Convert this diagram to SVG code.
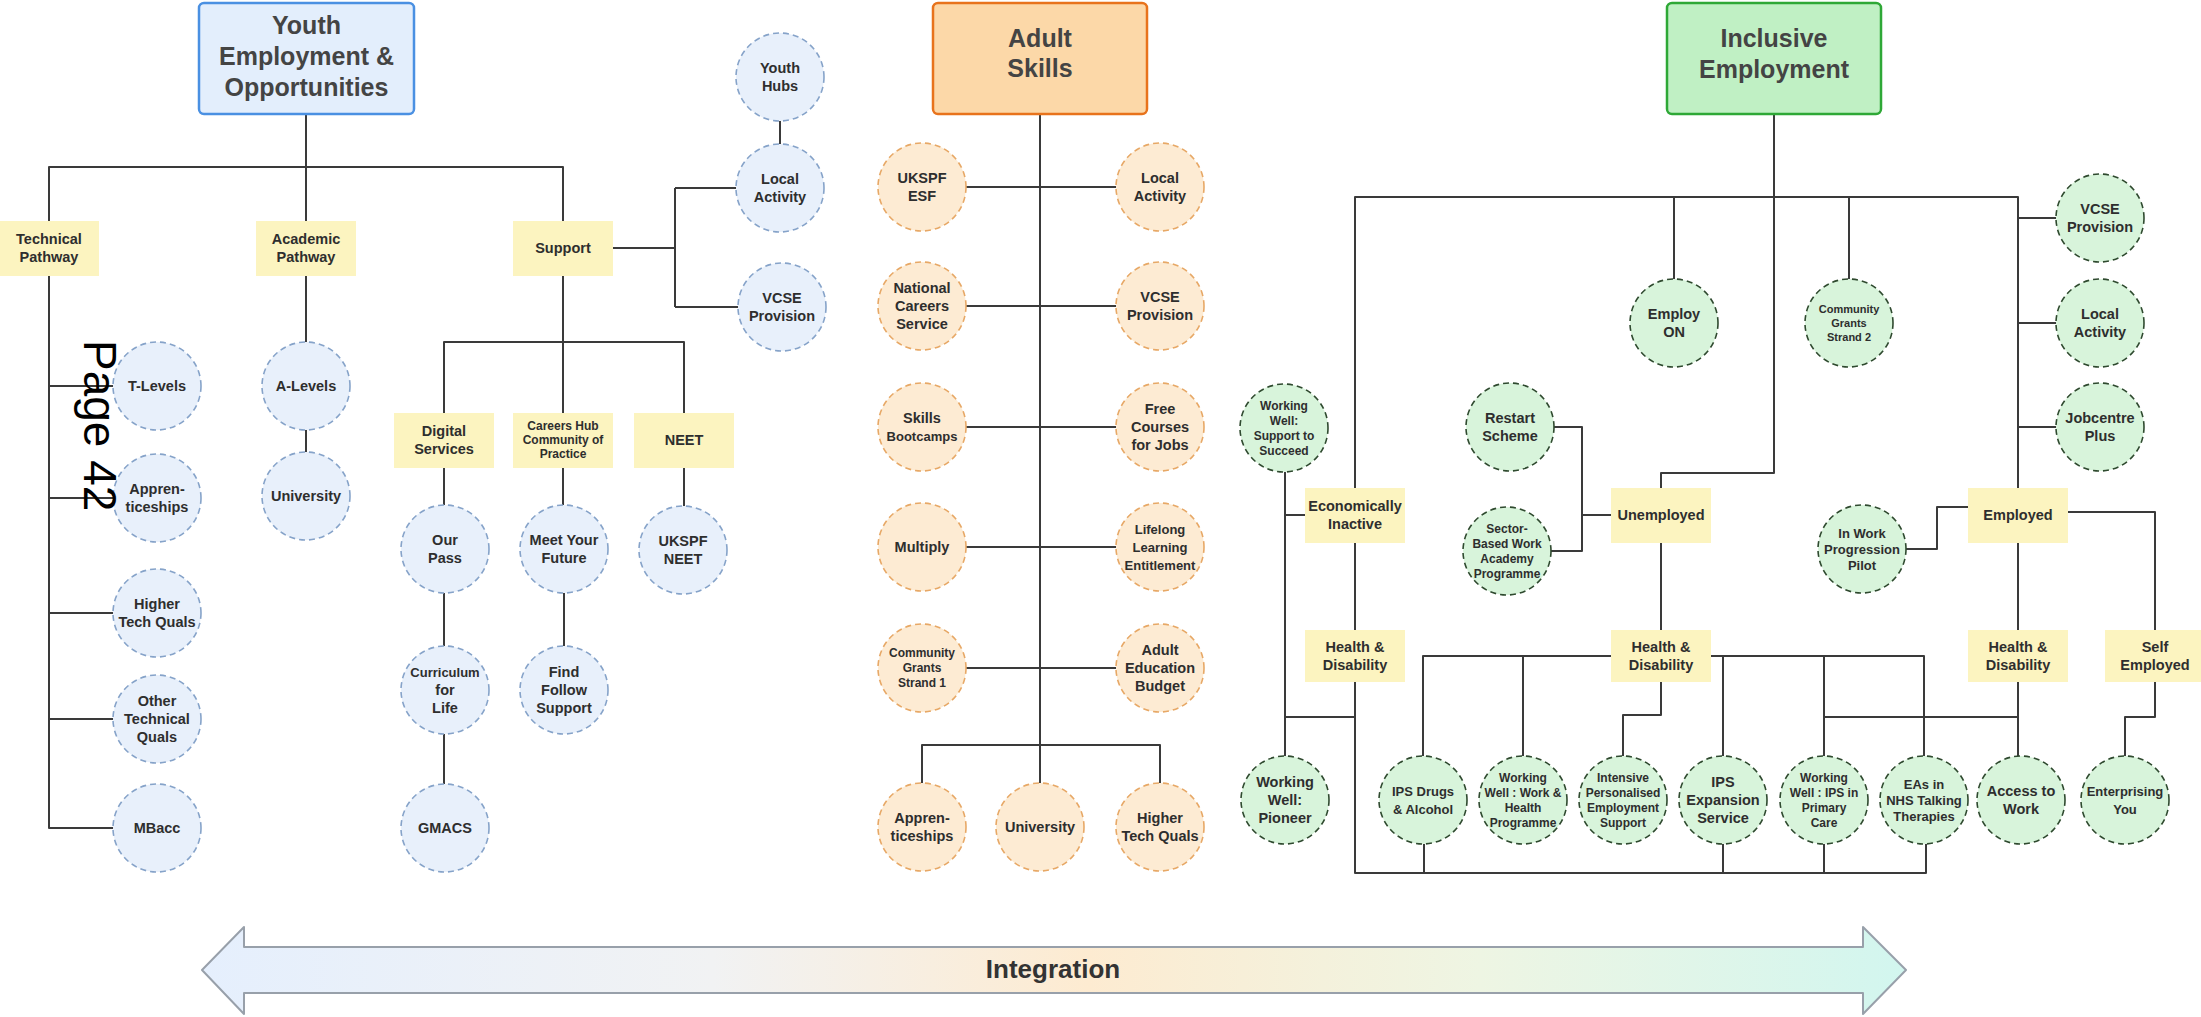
<svg xmlns="http://www.w3.org/2000/svg" width="2201" height="1017" viewBox="0 0 2201 1017">
<defs>
<linearGradient id="intg" gradientUnits="userSpaceOnUse" x1="202" y1="0" x2="1906" y2="0">
<stop offset="0" stop-color="#e5effd"/>
<stop offset="0.3" stop-color="#f1f2f3"/>
<stop offset="0.52" stop-color="#fdebd1"/>
<stop offset="0.75" stop-color="#eef5e3"/>
<stop offset="1" stop-color="#d2f6ef"/>
</linearGradient>
</defs>
<style>
.ln{fill:none;stroke:#3a3a3a;stroke-width:2;stroke-linejoin:round}
.yb{fill:#fcf4c0}
.cb{fill:#e8f0fb;stroke:#86a3c9;stroke-width:1.6;stroke-dasharray:6 4}
.co{fill:#fdebd3;stroke:#e7a866;stroke-width:1.6;stroke-dasharray:6 4}
.cg{fill:#d8f4db;stroke:#2f4a2f;stroke-width:1.6;stroke-dasharray:6 4}
text{font-family:"Liberation Sans",Arial,sans-serif;font-weight:bold;fill:#2e2e2e;text-anchor:middle}
.t{font-size:14.5px}
.m{font-size:13px}
.s{font-size:12px}
.xs{font-size:11px}
.h{font-size:25px;fill:#444}
</style>
<rect width="2201" height="1017" fill="#ffffff"/>

<g id="connectors">
<!-- Youth -->
<path class="ln" d="M306,114 V167 M49,221 V167 H563 V221 M306,167 V221"/>
<path class="ln" d="M49,276 V828 H113 M49,386 H113 M49,498 H113 M49,613 H113 M49,719 H113"/>
<path class="ln" d="M306,276 V342 M306,430 V452"/>
<path class="ln" d="M613,248 H675 M675,188 V307 M675,188 H736 M675,307 H738 M780,121 V144"/>
<path class="ln" d="M563,276 V413 M444,413 V342 H684 V413"/>
<path class="ln" d="M444,468 V505 M563,468 V505 M684,468 V506 M444,593 V646 M444,734 V784 M564,593 V646"/>
<!-- Adult -->
<path class="ln" d="M1040,114 V783 M922,783 V745 H1160 V783"/>
<path class="ln" d="M966,187 H1116 M966,306 H1116 M966,427 H1116 M966,547 H1116 M966,668 H1116"/>
<!-- Inclusive -->
<path class="ln" d="M1774,114 V473 H1661 V488"/>
<path class="ln" d="M1355,488 V197 H2018 V488 M1674,197 V279 M1849,197 V279"/>
<path class="ln" d="M2018,218 H2056 M2018,323 H2056 M2018,427 H2056"/>
<path class="ln" d="M1355,543 V630 M1355,682 V873 H1926 V844 M1424,844 V873 M1723,844 V873 M1824,844 V873"/>
<path class="ln" d="M1285,472 V756 M1285,515 H1305 M1285,717 H1355"/>
<path class="ln" d="M1554,427 H1582 V551 H1551 M1611,515 H1582 M1661,543 V630"/>
<path class="ln" d="M1611,656 H1423 V756 M1523,656 V756 M1711,656 H1924 V756 M1723,656 V756 M1824,656 V756 M1661,682 V715 H1623 V756"/>
<path class="ln" d="M1968,507 H1937 V549 H1906 M2068,512 H2155 V630 M2018,543 V630 M2018,682 V756 M2018,717 H1824 M2155,682 V717 H2125 V756"/>
</g>

<!-- Headers -->
<g id="youth-header">
<rect x="199" y="3" width="215" height="111" rx="5" fill="#e3eefc" stroke="#4a90e2" stroke-width="2.5"/>
<text class="h" x="306.5" y="34">Youth</text>
<text class="h" x="306.5" y="65">Employment &amp;</text>
<text class="h" x="306.5" y="96">Opportunities</text>
</g>
<g id="adult-header">
<rect x="933" y="3" width="214" height="111" rx="5" fill="#fcd8a8" stroke="#e8731c" stroke-width="2.5"/>
<text class="h" x="1040" y="47">Adult</text>
<text class="h" x="1040" y="77">Skills</text>
</g>
<g id="inclusive-header">
<rect x="1667" y="3" width="214" height="111" rx="5" fill="#c0f0c4" stroke="#2ea836" stroke-width="2.5"/>
<text class="h" x="1774" y="47">Inclusive</text>
<text class="h" x="1774" y="78">Employment</text>
</g>

<!-- Yellow category boxes -->
<g id="technical-pathway"><rect class="yb" x="-1" y="221" width="100" height="55"/><text class="t" x="49" y="244">Technical</text><text class="t" x="49" y="262">Pathway</text></g>
<g id="academic-pathway"><rect class="yb" x="256" y="221" width="100" height="55"/><text class="t" x="306" y="244">Academic</text><text class="t" x="306" y="262">Pathway</text></g>
<g id="support"><rect class="yb" x="513" y="221" width="100" height="55"/><text class="t" x="563" y="253">Support</text></g>
<g id="digital-services"><rect class="yb" x="394" y="413" width="100" height="55"/><text class="t" x="444" y="436">Digital</text><text class="t" x="444" y="454">Services</text></g>
<g id="careers-hub"><rect class="yb" x="513" y="413" width="100" height="55"/><text class="s" x="563" y="430">Careers Hub</text><text class="s" x="563" y="444">Community of</text><text class="s" x="563" y="458">Practice</text></g>
<g id="neet"><rect class="yb" x="634" y="413" width="100" height="55"/><text class="t" x="684" y="445">NEET</text></g>
<g id="econ-inactive"><rect class="yb" x="1305" y="488" width="100" height="55"/><text class="t" x="1355" y="511">Economically</text><text class="t" x="1355" y="529">Inactive</text></g>
<g id="hd-inactive"><rect class="yb" x="1305" y="630" width="100" height="52"/><text class="t" x="1355" y="652">Health &amp;</text><text class="t" x="1355" y="670">Disability</text></g>
<g id="unemployed"><rect class="yb" x="1611" y="488" width="100" height="55"/><text class="t" x="1661" y="520">Unemployed</text></g>
<g id="hd-unemployed"><rect class="yb" x="1611" y="630" width="100" height="52"/><text class="t" x="1661" y="652">Health &amp;</text><text class="t" x="1661" y="670">Disability</text></g>
<g id="employed"><rect class="yb" x="1968" y="488" width="100" height="55"/><text class="t" x="2018" y="520">Employed</text></g>
<g id="hd-employed"><rect class="yb" x="1968" y="630" width="100" height="52"/><text class="t" x="2018" y="652">Health &amp;</text><text class="t" x="2018" y="670">Disability</text></g>
<g id="self-employed"><rect class="yb" x="2105" y="630" width="100" height="52"/><text class="t" x="2155" y="652">Self</text><text class="t" x="2155" y="670">Employed</text></g>

<!-- Youth circles -->
<g id="t-levels"><circle class="cb" cx="157" cy="386" r="44"/><text class="t" x="157" y="391">T-Levels</text></g>
<g id="y-apprenticeships"><circle class="cb" cx="157" cy="498" r="44"/><text class="t" x="157" y="494">Appren-</text><text class="t" x="157" y="512">ticeships</text></g>
<g id="y-higher-tech"><circle class="cb" cx="157" cy="613" r="44"/><text class="t" x="157" y="609">Higher</text><text class="t" x="157" y="627">Tech Quals</text></g>
<g id="other-tech"><circle class="cb" cx="157" cy="719" r="44"/><text class="t" x="157" y="706">Other</text><text class="t" x="157" y="724">Technical</text><text class="t" x="157" y="742">Quals</text></g>
<g id="mbacc"><circle class="cb" cx="157" cy="828" r="44"/><text class="t" x="157" y="833">MBacc</text></g>
<g id="a-levels"><circle class="cb" cx="306" cy="386" r="44"/><text class="t" x="306" y="391">A-Levels</text></g>
<g id="y-university"><circle class="cb" cx="306" cy="496" r="44"/><text class="t" x="306" y="501">University</text></g>
<g id="youth-hubs"><circle class="cb" cx="780" cy="77" r="44"/><text class="t" x="780" y="73">Youth</text><text class="t" x="780" y="91">Hubs</text></g>
<g id="y-local-activity"><circle class="cb" cx="780" cy="188" r="44"/><text class="t" x="780" y="184">Local</text><text class="t" x="780" y="202">Activity</text></g>
<g id="y-vcse"><circle class="cb" cx="782" cy="307" r="44"/><text class="t" x="782" y="303">VCSE</text><text class="t" x="782" y="321">Provision</text></g>
<g id="our-pass"><circle class="cb" cx="445" cy="549" r="44"/><text class="t" x="445" y="545">Our</text><text class="t" x="445" y="563">Pass</text></g>
<g id="meet-your-future"><circle class="cb" cx="564" cy="549" r="44"/><text class="t" x="564" y="545">Meet Your</text><text class="t" x="564" y="563">Future</text></g>
<g id="ukspf-neet"><circle class="cb" cx="683" cy="550" r="44"/><text class="t" x="683" y="546">UKSPF</text><text class="t" x="683" y="564">NEET</text></g>
<g id="curriculum-for-life"><circle class="cb" cx="445" cy="690" r="44"/><text class="m" x="445" y="677">Curriculum</text><text class="t" x="445" y="695">for</text><text class="t" x="445" y="713">Life</text></g>
<g id="find-follow-support"><circle class="cb" cx="564" cy="690" r="44"/><text class="t" x="564" y="677">Find</text><text class="t" x="564" y="695">Follow</text><text class="t" x="564" y="713">Support</text></g>
<g id="gmacs"><circle class="cb" cx="445" cy="828" r="44"/><text class="t" x="445" y="833">GMACS</text></g>

<!-- Adult circles -->
<g id="ukspf-esf"><circle class="co" cx="922" cy="187" r="44"/><text class="t" x="922" y="183">UKSPF</text><text class="t" x="922" y="201">ESF</text></g>
<g id="a-local-activity"><circle class="co" cx="1160" cy="187" r="44"/><text class="t" x="1160" y="183">Local</text><text class="t" x="1160" y="201">Activity</text></g>
<g id="national-careers"><circle class="co" cx="922" cy="306" r="44"/><text class="t" x="922" y="293">National</text><text class="t" x="922" y="311">Careers</text><text class="t" x="922" y="329">Service</text></g>
<g id="a-vcse"><circle class="co" cx="1160" cy="306" r="44"/><text class="t" x="1160" y="302">VCSE</text><text class="t" x="1160" y="320">Provision</text></g>
<g id="skills-bootcamps"><circle class="co" cx="922" cy="427" r="44"/><text class="t" x="922" y="423">Skills</text><text class="m" x="922" y="441">Bootcamps</text></g>
<g id="free-courses"><circle class="co" cx="1160" cy="427" r="44"/><text class="t" x="1160" y="414">Free</text><text class="t" x="1160" y="432">Courses</text><text class="t" x="1160" y="450">for Jobs</text></g>
<g id="multiply"><circle class="co" cx="922" cy="547" r="44"/><text class="t" x="922" y="552">Multiply</text></g>
<g id="lifelong-learning"><circle class="co" cx="1160" cy="547" r="44"/><text class="m" x="1160" y="534">Lifelong</text><text class="m" x="1160" y="552">Learning</text><text class="m" x="1160" y="570">Entitlement</text></g>
<g id="community-grants-1"><circle class="co" cx="922" cy="668" r="44"/><text class="s" x="922" y="657">Community</text><text class="s" x="922" y="672">Grants</text><text class="s" x="922" y="687">Strand 1</text></g>
<g id="adult-education-budget"><circle class="co" cx="1160" cy="668" r="44"/><text class="t" x="1160" y="655">Adult</text><text class="t" x="1160" y="673">Education</text><text class="t" x="1160" y="691">Budget</text></g>
<g id="a-apprenticeships"><circle class="co" cx="922" cy="827" r="44"/><text class="t" x="922" y="823">Appren-</text><text class="t" x="922" y="841">ticeships</text></g>
<g id="a-university"><circle class="co" cx="1040" cy="827" r="44"/><text class="t" x="1040" y="832">University</text></g>
<g id="a-higher-tech"><circle class="co" cx="1160" cy="827" r="44"/><text class="t" x="1160" y="823">Higher</text><text class="t" x="1160" y="841">Tech Quals</text></g>

<!-- Inclusive circles -->
<g id="ww-support-succeed"><circle class="cg" cx="1284" cy="428" r="44"/><text class="s" x="1284" y="409.5">Working</text><text class="s" x="1284" y="424.5">Well:</text><text class="s" x="1284" y="439.5">Support to</text><text class="s" x="1284" y="454.5">Succeed</text></g>
<g id="employ-on"><circle class="cg" cx="1674" cy="323" r="44"/><text class="t" x="1674" y="319">Employ</text><text class="t" x="1674" y="337">ON</text></g>
<g id="community-grants-2"><circle class="cg" cx="1849" cy="323" r="44"/><text class="xs" x="1849" y="313">Community</text><text class="xs" x="1849" y="327">Grants</text><text class="xs" x="1849" y="341">Strand 2</text></g>
<g id="i-vcse"><circle class="cg" cx="2100" cy="218" r="44"/><text class="t" x="2100" y="214">VCSE</text><text class="t" x="2100" y="232">Provision</text></g>
<g id="i-local-activity"><circle class="cg" cx="2100" cy="323" r="44"/><text class="t" x="2100" y="319">Local</text><text class="t" x="2100" y="337">Activity</text></g>
<g id="jobcentre-plus"><circle class="cg" cx="2100" cy="427" r="44"/><text class="t" x="2100" y="423">Jobcentre</text><text class="t" x="2100" y="441">Plus</text></g>
<g id="restart-scheme"><circle class="cg" cx="1510" cy="427" r="44"/><text class="t" x="1510" y="423">Restart</text><text class="t" x="1510" y="441">Scheme</text></g>
<g id="swap"><circle class="cg" cx="1507" cy="551" r="44"/><text class="s" x="1507" y="532.5">Sector-</text><text class="s" x="1507" y="547.5">Based Work</text><text class="s" x="1507" y="562.5">Academy</text><text class="s" x="1507" y="577.5">Programme</text></g>
<g id="in-work-progression"><circle class="cg" cx="1862" cy="549" r="44"/><text class="m" x="1862" y="537.5">In Work</text><text class="m" x="1862" y="553.5">Progression</text><text class="m" x="1862" y="569.5">Pilot</text></g>
<g id="ww-pioneer"><circle class="cg" cx="1285" cy="800" r="44"/><text class="t" x="1285" y="787">Working</text><text class="t" x="1285" y="805">Well:</text><text class="t" x="1285" y="823">Pioneer</text></g>
<g id="ips-drugs"><circle class="cg" cx="1423" cy="800" r="44"/><text class="m" x="1423" y="796">IPS Drugs</text><text class="m" x="1423" y="814">&amp; Alcohol</text></g>
<g id="ww-work-health"><circle class="cg" cx="1523" cy="800" r="44"/><text class="s" x="1523" y="781.5">Working</text><text class="s" x="1523" y="796.5">Well : Work &amp;</text><text class="s" x="1523" y="811.5">Health</text><text class="s" x="1523" y="826.5">Programme</text></g>
<g id="ipes"><circle class="cg" cx="1623" cy="800" r="44"/><text class="s" x="1623" y="781.5">Intensive</text><text class="s" x="1623" y="796.5">Personalised</text><text class="s" x="1623" y="811.5">Employment</text><text class="s" x="1623" y="826.5">Support</text></g>
<g id="ips-expansion"><circle class="cg" cx="1723" cy="800" r="44"/><text class="t" x="1723" y="787">IPS</text><text class="t" x="1723" y="805">Expansion</text><text class="t" x="1723" y="823">Service</text></g>
<g id="ww-ips-primary"><circle class="cg" cx="1824" cy="800" r="44"/><text class="s" x="1824" y="781.5">Working</text><text class="s" x="1824" y="796.5">Well : IPS in</text><text class="s" x="1824" y="811.5">Primary</text><text class="s" x="1824" y="826.5">Care</text></g>
<g id="eas-nhs"><circle class="cg" cx="1924" cy="800" r="44"/><text class="m" x="1924" y="788.5">EAs in</text><text class="m" x="1924" y="804.5">NHS Talking</text><text class="m" x="1924" y="820.5">Therapies</text></g>
<g id="access-to-work"><circle class="cg" cx="2021" cy="800" r="44"/><text class="t" x="2021" y="796">Access to</text><text class="t" x="2021" y="814">Work</text></g>
<g id="enterprising-you"><circle class="cg" cx="2125" cy="800" r="44"/><text class="m" x="2125" y="796">Enterprising</text><text class="m" x="2125" y="814">You</text></g>

<!-- Integration arrow -->
<g id="integration">
<path d="M202,970 L244,927 L244,947 L1863,947 L1863,927 L1906,970 L1863,1014 L1863,993 L244,993 L244,1014 Z" fill="url(#intg)" stroke="#98a0aa" stroke-width="2" stroke-linejoin="round"/>
<text x="1053" y="978" style="font-size:26px;fill:#333">Integration</text>
</g>

<text x="0" y="0" transform="translate(84,340) rotate(90)" style="font-family:'Liberation Sans',Arial,sans-serif;font-weight:normal;font-size:46px;fill:#000;text-anchor:start">Page 42</text>
</svg>
